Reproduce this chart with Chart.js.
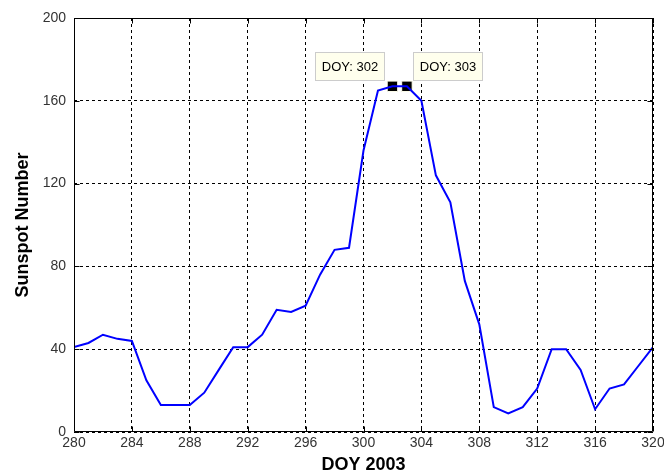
<!DOCTYPE html>
<html>
<head>
<meta charset="utf-8">
<script src="https://cdn.jsdelivr.net/npm/chart.js@4/dist/chart.umd.min.js"></script>
<style>
  html, body { margin: 0; padding: 0; background: #ffffff; }
  #wrap { position: relative; width: 664px; height: 476px; }
</style>
</head>
<body>
<div id="wrap"><canvas id="c" width="664" height="476"></canvas></div>
<script>
// ---- data ----
const days = [280,281,282,283,284,285,286,287,288,289,290,291,292,293,294,295,296,297,298,299,300,
              301,302,303,304,305,306,307,308,309,310,311,312,313,314,315,316,317,318,319,320];
const sunspots = [41,43,47,45,44,25,13,13,13,19,30,41,41,47,59,58,61,76,88,89,136,
                  165,167,167,160,124,111,73,52,12,9,12,21,40,40,30,11,21,23,32,41];
const tipDays = [302, 303];
const tipValues = [167, 167];
const tipLabels = ['DOY: 302', 'DOY: 303'];
const xTicks = [280,284,288,292,296,300,304,308,312,316,320];
const yTicks = [0,40,80,120,160,200];
const xTitle = 'DOY 2003';
const yTitle = 'Sunspot Number';

const lineData = days.map((d, i) => ({x: d, y: sunspots[i]}));
const tipData = tipDays.map((d, i) => ({x: d, y: tipValues[i]}));

const FONT = "'Liberation Sans', Arial, sans-serif";

const frame = {
  id: 'frame',
  beforeDatasetsDraw(chart) {
    // data tip boxes (cover grid lines)
    const ctx = chart.ctx;
    const meta = chart.getDatasetMeta(1);
    ctx.save();
    ctx.font = '13px ' + FONT;
    ctx.textBaseline = 'middle';
    ctx.textAlign = 'center';
    meta.data.forEach((pt, i) => {
      const w = 70, h = 29;
      const bx = i === 0 ? pt.x - 7 - w : pt.x + 6;
      const by = pt.y - 5.5 - h;
      ctx.fillStyle = '#ffffed';
      ctx.fillRect(Math.round(bx), Math.round(by), w, h);
      ctx.strokeStyle = '#cccccc';
      ctx.lineWidth = 1;
      ctx.strokeRect(Math.round(bx) + 0.5, Math.round(by) + 0.5, w - 1, h - 1);
      ctx.fillStyle = '#000000';
      ctx.fillText(tipLabels[i], Math.round(bx) + w / 2, Math.round(by) + h / 2 + 0.5);
    });
    ctx.restore();
  },
  afterDraw(chart) {
    const ctx = chart.ctx;
    const a = chart.chartArea;
    const xs = chart.scales.x, ys = chart.scales.y;
    ctx.save();
    ctx.strokeStyle = '#000000';
    ctx.lineWidth = 1;
    ctx.setLineDash([]);
    const L = Math.round(a.left) + 0.5, R = Math.round(a.right) - 0.5;
    const T = Math.round(a.top) + 0.5, B = Math.round(a.bottom) - 0.5;
    ctx.beginPath();
    ctx.rect(L, T, R - L, B - T);
    // inward ticks
    xTicks.forEach(v => {
      const px = Math.round(xs.getPixelForValue(v)) + 0.5;
      ctx.moveTo(px, B); ctx.lineTo(px, B - 5);
      ctx.moveTo(px, T); ctx.lineTo(px, T + 5);
    });
    yTicks.forEach(v => {
      const py = Math.round(ys.getPixelForValue(v)) + 0.5;
      ctx.moveTo(L, py); ctx.lineTo(L + 5, py);
      ctx.moveTo(R, py); ctx.lineTo(R - 5, py);
    });
    ctx.stroke();
    ctx.restore();
  }
};

new Chart(document.getElementById('c'), {
  type: 'line',
  data: {
    datasets: [
      {
        data: lineData,
        borderColor: '#0000ff',
        borderWidth: 2,
        pointRadius: 0,
        tension: 0,
        fill: false
      },
      {
        data: tipData,
        showLine: false,
        pointStyle: 'rect',
        pointRadius: 7.4,
        pointBackgroundColor: '#000000',
        pointBorderColor: '#ffffed',
        pointBorderWidth: 1
      }
    ]
  },
  options: {
    responsive: false,
    animation: false,
    events: [],
    layout: { padding: { top: 18, right: 11, left: 0, bottom: 0 } },
    plugins: { legend: { display: false }, tooltip: { enabled: false } },
    scales: {
      x: {
        type: 'linear',
        min: 280, max: 320,
        afterBuildTicks(s) { s.ticks = xTicks.map(v => ({value: v})); },
        afterFit(s) { s.height = 44; s.paddingLeft = 0; s.paddingRight = 0; },
        grid: { color: '#000000', lineWidth: 1, drawTicks: false },
        border: { display: false, dash: [3, 3] },
        ticks: { color: '#333333', font: { family: FONT, size: 14 }, padding: 3, maxRotation: 0, autoSkip: false },
        title: { display: true, text: xTitle, color: '#000000',
                 font: { family: FONT, size: 18, weight: 'bold' }, padding: { top: 0, bottom: 0 } }
      },
      y: {
        type: 'linear',
        min: 0, max: 200,
        afterBuildTicks(s) { s.ticks = yTicks.map(v => ({value: v})); },
        afterFit(s) { s.width = 74; s.paddingTop = 0; s.paddingBottom = 0; },
        grid: { color: '#000000', lineWidth: 1, drawTicks: false },
        border: { display: false, dash: [3, 3] },
        ticks: { color: '#333333', font: { family: FONT, size: 14 }, padding: 8, autoSkip: false },
        title: { display: true, text: yTitle, color: '#000000',
                 font: { family: FONT, size: 18, weight: 'bold' }, padding: { top: 12, bottom: 0 } }
      }
    }
  },
  plugins: [frame]
});
</script>
</body>
</html>
